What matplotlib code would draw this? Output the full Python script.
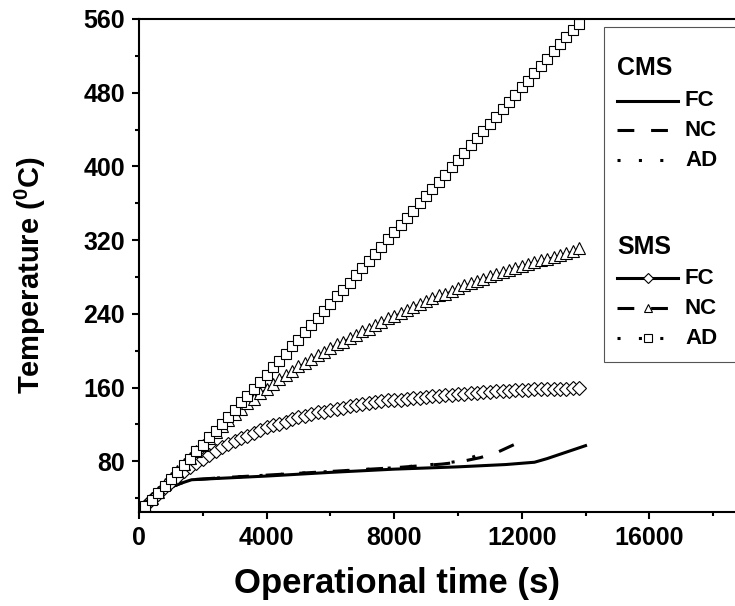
import matplotlib
matplotlib.use('Agg')
import matplotlib.pyplot as plt
from matplotlib.lines import Line2D
from matplotlib.patches import Rectangle

plt.rcParams['font.family'] = ['Liberation Sans', 'DejaVu Sans']
plt.rcParams['font.weight'] = 'bold'
plt.rcParams['mathtext.fontset'] = 'custom'
plt.rcParams['mathtext.rm'] = 'Liberation Sans:bold'
plt.rcParams['mathtext.bf'] = 'Liberation Sans:bold'

# CMS (lines only)
cms_fc_t = [0, 300, 600, 1000, 1300, 1650, 2500, 4000, 6000, 8000, 10000, 11500, 12400, 12800, 13400, 14000]
cms_fc_T = [30, 40, 46, 52, 56, 60, 61.5, 64, 68, 71.5, 74, 76.5, 79, 83, 90, 97]
cms_nc_t = [0, 300, 600, 1000, 1300, 1650, 2500, 4000, 6000, 8000, 9500, 10000, 10700, 11250, 11750]
cms_nc_T = [30, 40, 46, 52, 56, 60, 62, 65, 69, 73, 77, 79, 84, 90, 98]
cms_ad_t = [0, 300, 600, 1000, 1300, 1650, 2500, 4000, 6000, 8000, 9500, 10000, 10500, 10900]
cms_ad_T = [30, 40, 46, 52, 56, 60, 62, 65, 69, 73, 77.5, 80, 85, 92]

# SMS (sampled every 200 s)
sms_t = [0, 200, 400, 600, 800, 1000, 1200, 1400, 1600, 1800,
         2000, 2200, 2400, 2600, 2800, 3000, 3200, 3400, 3600, 3800,
         4000, 4200, 4400, 4600, 4800, 5000, 5200, 5400, 5600, 5800,
         6000, 6200, 6400, 6600, 6800, 7000, 7200, 7400, 7600, 7800,
         8000, 8200, 8400, 8600, 8800, 9000, 9200, 9400, 9600, 9800,
         10000, 10200, 10400, 10600, 10800, 11000, 11200, 11400, 11600, 11800,
         12000, 12200, 12400, 12600, 12800, 13000, 13200, 13400, 13600, 13800]
sms_fc_T = [24, 32, 39, 45, 52, 58, 63, 69, 74, 78,
            83, 87, 91, 95, 99, 102, 105, 108, 111, 114,
            117, 119, 121, 123, 126, 128, 129, 131, 133, 134,
            136, 137, 138, 140, 141, 142, 143, 144, 145, 146,
            147, 147, 148, 149, 149, 150, 151, 151, 152, 152,
            153, 153, 154, 154, 155, 155, 156, 156, 156, 157,
            157, 157, 158, 158, 158, 159, 159, 159, 160, 160]
sms_nc_T = [24, 32, 40, 47, 55, 62, 69, 77, 84, 91,
            98, 105, 112, 118, 125, 131, 137, 143, 148, 154,
            159, 164, 169, 174, 178, 183, 187, 191, 195, 199,
            203, 207, 210, 214, 217, 221, 224, 228, 231, 235,
            238, 241, 244, 248, 251, 254, 257, 260, 262, 265,
            268, 271, 273, 276, 278, 281, 283, 285, 288, 290,
            292, 294, 296, 298, 300, 302, 304, 306, 308, 311]
sms_ad_T = [24, 31, 38, 46, 53, 61, 68, 76, 83, 91,
            98, 106, 113, 121, 128, 136, 144, 151, 159, 166,
            174, 182, 189, 197, 205, 212, 220, 228, 235, 243,
            251, 259, 266, 274, 282, 290, 297, 305, 313, 321,
            329, 336, 344, 352, 360, 368, 376, 383, 391, 399,
            407, 415, 423, 431, 438, 446, 454, 462, 470, 478,
            486, 493, 501, 509, 517, 525, 533, 540, 548, 555]

W, H = 735, 606
fig = plt.figure(figsize=(W / 100, H / 100), dpi=100)
ax = fig.add_axes([139 / W, 1 - 512 / H, 606 / W, 493 / H])

lw = 2.2
dash = (0, (5.5, 5.5))
dot = (0, (1, 6))
ax.plot(cms_fc_t, cms_fc_T, color='black', lw=lw, ls='-')
ax.plot(cms_nc_t, cms_nc_T, color='black', lw=lw, ls=dash)
ax.plot(cms_ad_t, cms_ad_T, color='black', lw=lw, ls=dot)

mk = dict(color='black', lw=0.8, markerfacecolor='white', markeredgecolor='black', markeredgewidth=0.8)
ax.plot(sms_t, sms_fc_T, marker='D', markersize=7.5, **mk)
ax.plot(sms_t, sms_nc_T, marker='^', markersize=9, **mk)
ax.plot(sms_t, sms_ad_T, marker='s', markersize=7.2, **mk)

ax.set_xlim(0, 19000)
ax.set_ylim(25, 560)
ax.set_xticks([0, 4000, 8000, 12000, 16000])
ax.set_xticks([2000, 6000, 10000, 14000, 18000], minor=True)
ax.set_yticks([80, 160, 240, 320, 400, 480, 560])
ax.set_yticks([40, 120, 200, 280, 360, 440, 520], minor=True)
ax.tick_params(which='major', direction='out', length=5, width=1.5, labelsize=18, pad=5)
ax.tick_params(which='minor', direction='out', length=3, width=1.5)
ax.tick_params(top=False, right=False)
for s in ax.spines.values():
    s.set_linewidth(1.5)

ax.set_xlabel('Operational time (s)', fontsize=25, fontweight='bold', va='center')
ax.xaxis.set_label_coords(0.426, -0.146)
ax.set_ylabel(r'Temperature (${}^{0}$C)', fontsize=21, fontweight='bold')
ax.yaxis.set_label_coords(-0.15, 0.48)

# legend drawn by hand (header rows left aligned)
def fx(x):
    return x / W

def fy(y):
    return 1 - y / H

fig.patches.append(Rectangle((fx(604), fy(362)), fx(150), fy(27) - fy(362), transform=fig.transFigure,
                             facecolor='white', edgecolor='#555555', lw=0.8, zorder=5))
hx = [fx(617), fx(647.5), fx(678)]
rows = [
    ('CMS', None, None, 68),
    ('FC', '-', None, 101),
    ('NC', dash, None, 130),
    ('AD', dot, None, 160),
    ('SMS', None, None, 247),
    ('FC', '-', 'D', 278),
    ('NC', dash, '^', 308),
    ('AD', dot, 's', 338),
]
for label, ls, marker, y in rows:
    if ls is None:
        fig.text(fx(617), fy(y), label, fontsize=18, fontweight='bold', va='center', ha='left', zorder=6)
        continue
    ln = Line2D(hx, [fy(y)] * 3, transform=fig.transFigure, color='black', lw=lw, ls=ls, zorder=6)
    fig.lines.append(ln)
    if marker:
        m = Line2D([hx[1]], [fy(y)], transform=fig.transFigure, ls='none', marker=marker,
                   markersize=5.5, markerfacecolor='white', markeredgecolor='black',
                   markeredgewidth=0.8, zorder=7)
        fig.lines.append(m)
    fig.text(fx(685), fy(y), label, fontsize=16, fontweight='bold', va='center', ha='left', zorder=6)

fig.savefig('out.png', dpi=100)
